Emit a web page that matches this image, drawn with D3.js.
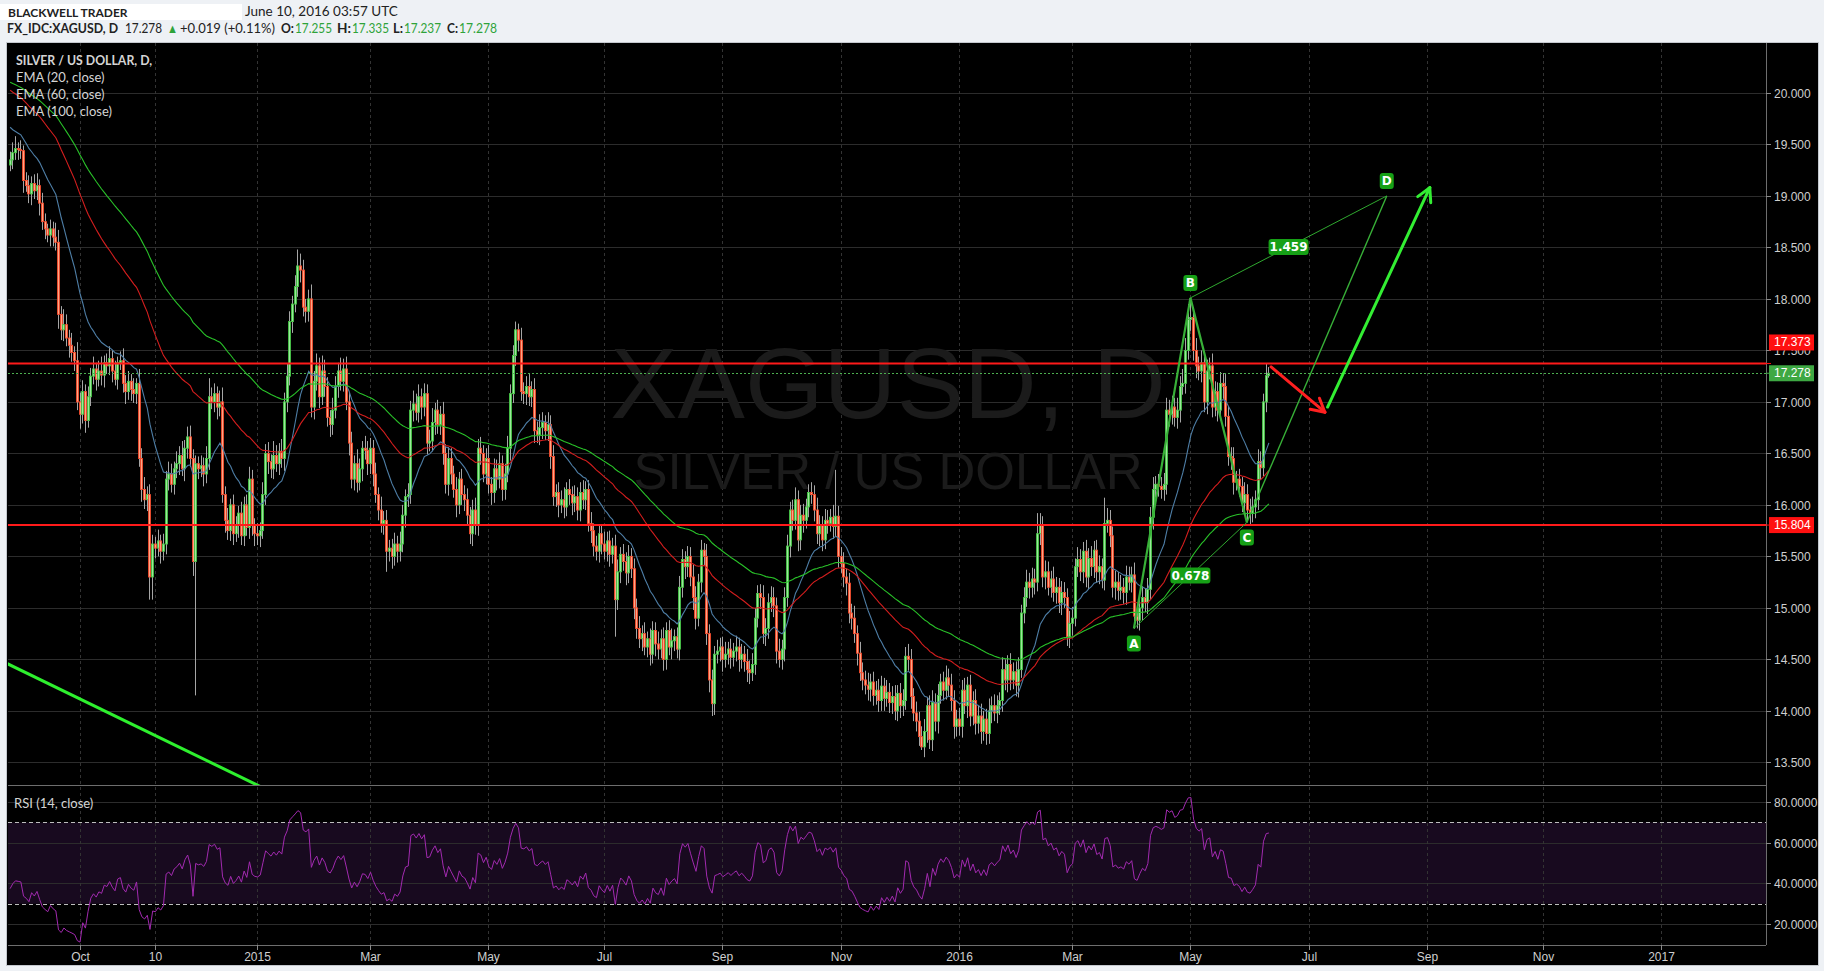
<!DOCTYPE html>
<html><head><meta charset="utf-8">
<script src="https://cdn.jsdelivr.net/npm/d3@7"></script>
<style>html,body{margin:0;padding:0;background:#eef1f5;overflow:hidden}svg{display:block}</style>
</head><body><svg id="c" width="1824" height="971"></svg>
<script>
// ---------------- DATA ----------------
const lastBarDate = "2016-06-10";
const firstOpen = 19.30;
// daily closes, Aug 26 2014 .. Jun 10 2016 (weekdays)
const closes = [
19.35,19.42,19.46,19.45,19.44,19.15,19.10,19.02,19.12,19.05,
19.10,18.93,18.75,18.68,18.62,18.68,18.60,18.55,17.85,17.70,
17.75,17.62,17.55,17.48,17.40,17.00,16.88,17.10,16.82,17.05,
17.25,17.32,17.22,17.30,17.26,17.38,17.35,17.42,17.30,17.22,
17.38,17.40,17.18,17.10,17.20,17.12,17.08,17.18,16.45,16.15,
16.05,16.10,15.30,15.62,15.58,15.65,15.55,15.62,16.25,16.30,
16.20,16.35,16.40,16.48,16.35,16.55,16.66,16.45,15.45,16.40,
16.35,16.38,16.30,16.45,17.05,17.00,17.08,16.95,17.00,16.10,
15.85,15.75,16.00,15.72,15.80,15.92,15.70,16.00,15.78,16.25,
15.80,15.72,
15.70,15.75,16.10,16.50,16.42,16.35,16.48,16.40,16.52,16.45,
17.00,17.25,17.78,17.95,18.12,18.32,18.28,17.92,17.88,18.00,
16.95,17.20,17.35,17.05,17.30,17.15,16.85,16.78,16.92,17.15,
17.30,17.20,17.32,17.00,16.60,16.25,16.40,16.22,16.35,16.55,
16.53,16.40,16.55,16.30,16.10,15.95,15.82,15.85,15.55,15.58,
15.50,15.62,15.55,15.62,15.90,16.08,16.10,16.92,16.98,16.90,
17.05,16.95,17.08,16.60,16.62,16.80,16.92,16.78,16.88,16.50,
16.20,16.45,16.30,16.15,16.00,16.25,16.10,16.05,15.90,15.72,
15.95,15.80,16.55,16.50,16.30,16.45,16.20,16.12,16.35,16.25,
16.40,16.15,16.30,16.55,17.08,17.45,17.70,17.60,17.10,17.08,
17.15,17.05,17.12,16.72,16.68,16.75,16.80,16.72,16.78,16.47,
16.08,16.12,16.00,16.05,15.98,16.15,16.10,16.02,16.08,15.95,
16.12,16.05,16.15,15.82,15.75,15.60,15.55,15.72,15.62,15.55,
15.65,15.52,15.60,15.08,15.35,15.52,15.45,15.34,15.50,15.38,
15.00,14.80,14.70,14.75,14.62,14.70,14.55,14.78,14.65,14.60,
14.70,14.50,14.78,14.62,14.68,14.72,14.60,15.20,15.47,15.40,
15.50,15.30,15.10,14.90,15.25,15.56,15.50,14.75,14.30,14.07,
14.55,14.58,14.62,14.50,14.55,14.60,14.52,14.58,14.62,14.50,
14.55,14.48,14.40,14.37,14.45,14.90,15.14,15.10,14.75,14.80,
15.05,15.10,15.02,14.58,14.50,14.60,15.10,15.60,15.95,15.85,
16.05,15.66,15.90,15.85,15.98,16.12,16.10,15.95,15.72,15.80,
15.66,15.85,15.82,15.88,15.79,15.89,15.50,15.43,15.30,15.24,
14.95,14.90,14.75,14.56,14.37,14.30,14.25,14.21,14.28,14.15,
14.20,14.10,14.24,14.12,14.18,14.08,14.14,14.00,14.17,14.05,
14.10,14.53,14.50,14.14,13.98,13.90,13.75,13.65,13.80,14.05,
13.72,14.08,13.90,14.15,14.28,14.20,14.32,14.25,14.10,13.85,
13.92,13.85,14.20,14.05,14.25,13.95,14.10,13.88,13.95,13.80,
13.92,13.78,14.00,14.05,13.98,14.05,14.10,14.40,14.30,14.45,
14.30,14.38,14.25,14.40,14.95,15.10,15.25,15.20,15.28,15.25,
15.72,15.80,15.30,15.35,15.20,15.28,15.15,15.20,15.05,15.15,
15.10,14.72,14.85,14.90,15.40,15.47,15.35,15.55,15.30,15.48,
15.40,15.56,15.35,15.40,15.27,15.82,15.85,15.70,15.20,15.25,
15.17,15.20,15.15,15.30,15.25,15.32,14.92,14.88,15.00,15.10,
15.05,15.18,15.88,16.15,16.20,16.18,16.15,16.20,16.92,16.88,
16.95,16.85,16.92,17.15,17.18,17.50,17.80,17.82,17.50,17.35,
17.30,17.38,17.00,17.30,17.35,16.95,17.10,16.92,17.18,17.15,
16.86,16.47,16.45,16.22,16.25,16.18,16.02,16.10,15.95,15.92,
15.98,16.05,16.42,16.36,17.00,17.255,17.278
];
// upper / lower shadows above/below the body, in cents
const upperWick = [
8,10,12,6,9,5,8,10,7,9,
12,6,10,8,5,9,7,14,12,8,
15,10,8,12,6,18,9,11,7,10,
8,12,6,10,14,7,9,12,8,10,
6,9,12,8,10,7,11,5,14,10,
12,8,10,9,7,11,6,10,8,12,
10,7,12,9,14,8,10,11,9,8,
7,10,8,12,18,9,10,7,11,14,
8,12,6,10,9,7,11,8,10,12,
9,7,
10,8,12,9,11,7,14,10,8,12,
9,12,10,8,11,16,12,10,8,9,
14,10,12,8,15,11,9,7,12,10,
8,13,10,12,9,11,8,14,10,7,
12,9,10,8,11,7,13,9,10,8,
9,11,8,12,10,7,11,9,13,10,
12,8,10,9,11,14,7,10,8,12,
9,11,10,8,12,7,10,9,11,8,
10,12,9,11,8,10,13,7,10,9,
11,8,10,12,9,10,8,6,12,9,
10,12,8,11,9,13,10,7,12,9,
11,8,10,9,12,7,10,8,11,9,
10,12,8,9,11,7,10,9,8,12,
9,10,8,11,12,7,10,9,11,8,
10,9,12,8,11,7,10,9,8,12,
9,11,8,10,12,7,9,11,10,8,
10,9,12,11,8,10,7,12,9,10,
8,11,9,10,12,7,10,8,11,9,
10,8,12,9,11,10,8,9,12,10,
9,11,10,8,12,9,10,11,8,10,
12,9,10,11,8,8,10,9,12,10,
9,11,10,8,12,45,10,9,11,8,
10,9,12,8,11,10,9,12,8,10,
9,11,10,8,12,9,10,11,8,10,
11,9,12,10,8,11,9,10,12,8,
10,12,9,11,8,10,12,9,11,10,
9,11,10,12,8,10,9,11,10,12,
8,10,12,9,11,10,8,12,10,9,
11,9,10,12,8,10,12,9,11,10,
20,12,9,11,10,8,12,10,9,11,
10,9,12,11,8,12,10,9,11,10,
12,9,10,11,8,25,12,10,9,11,
10,12,9,11,10,8,12,9,10,11,
9,11,10,12,8,10,9,11,12,10,
11,9,12,10,14,12,15,19,10,12,
9,12,10,11,8,12,10,9,11,10,
12,10,9,11,8,10,9,12,10,11,
10,9,12,10,8,12,6
];
const lowerWick = [
6,9,7,10,8,12,6,9,11,8,
9,12,8,10,7,11,9,8,14,10,
11,8,12,9,10,8,14,9,12,7,
9,8,11,7,10,12,8,9,11,6,
10,7,9,12,8,11,9,10,8,12,
9,11,22,22,10,8,12,9,10,11,
8,10,9,11,7,12,10,8,14,130,
10,8,12,9,11,7,10,12,9,8,
12,9,10,11,8,12,9,10,8,11,
10,12,
9,11,8,10,12,9,10,8,11,9,
12,10,9,11,8,10,12,9,11,10,
10,12,9,11,8,10,9,12,10,8,
11,9,10,8,12,9,11,10,8,12,
9,11,10,12,8,10,9,11,20,10,
12,9,11,10,8,12,10,9,11,8,
10,12,9,11,8,10,12,9,10,11,
9,11,10,8,12,9,10,11,9,10,
12,9,10,11,8,10,9,12,10,11,
9,11,10,8,12,9,10,11,9,10,
11,9,10,12,8,10,11,9,10,12,
9,10,12,8,11,9,10,12,9,10,
11,9,10,8,12,10,9,11,10,8,
10,12,9,36,10,11,9,12,10,9,
11,10,9,12,8,10,11,9,12,10,
9,11,10,8,12,10,9,11,10,12,
10,9,12,11,8,10,9,11,12,12,
11,9,10,12,8,10,11,9,10,12,
9,10,12,11,8,10,9,11,10,12,
10,9,11,12,8,10,12,9,11,10,
9,11,10,12,8,10,9,11,10,12,
11,9,10,8,12,10,11,9,10,12,
10,11,9,12,8,10,9,11,12,10,
9,11,10,12,8,10,11,9,10,12,
10,9,11,12,8,10,9,3,10,11,
9,11,10,12,8,10,9,11,10,12,
10,9,11,8,12,10,9,11,10,12,
9,11,10,12,8,10,9,11,10,12,
10,9,11,12,8,10,9,11,10,12,
9,11,10,12,8,10,9,11,10,12,
10,9,11,12,8,10,9,11,10,12,
9,11,10,12,8,10,9,11,10,12,
10,9,11,12,8,10,12,8,10,12,
9,11,10,12,8,10,9,11,10,12,
10,9,11,12,8,10,9,11,10,12,
9,11,10,12,8,10,9,11,10,12,
10,9,11,12,8,10,9,11,12,12,
9,11,10,12,8,10,2
];
const emaPeriods = [20, 60, 100];
const emaSeeds = [19.70, 20.05, 20.12];   // EMA values carried in from before the first visible bar
const rsiPeriod = 14;
const rsiSeedGain = 0.05, rsiSeedLoss = 0.09;
const priceTicks = [13.5,14,14.5,15,15.5,16,16.5,17,17.5,18,18.5,19,19.5,20];
const rsiTicks = [20,40,60,80];
const rsiBand = [30,70];
const timeTickDates = ["2014-10-01","2014-11-10","2015-01-01","2015-03-02","2015-05-01","2015-07-01","2015-09-01","2015-11-02","2016-01-01","2016-03-01","2016-05-02","2016-07-01","2016-09-01","2016-11-01","2017-01-02"];
const timeTickLabels = ["Oct","10","2015","Mar","May","Jul","Sep","Nov","2016","Mar","May","Jul","Sep","Nov","2017"];
const levelPrices = [17.373, 15.804];
const lastPrice = 17.278;
const abcdLabels = ["A","B","C","D"];
const abcdDates = ["2016-04-01","2016-05-02","2016-05-31","2016-08-11"];
const abcdPrices = [14.80, 18.01, 15.83, 19.00];
const ratioLabels = ["0.678","1.459"];
const ratioPairs = [[0,2],[1,3]];
const arrowDates = [["2016-06-13","2016-07-11"],["2016-07-12","2016-09-02"]];
const arrowPrices = [[17.34,16.90],[16.95,19.08]];
const trendDates = ["2014-08-25","2015-01-01"];
const trendPrices = [14.46, 13.28];
const headerParts = ["FX_IDC:XAGUSD, D","17.278","\u25B2","+0.019 (+0.11%)","O:","17.255","H:","17.335","L:","17.237","C:","17.278"];

// ---------------- HELPERS ----------------
const BASE = Date.UTC(2015,0,1);
function wdIndex(s){
  const t = Date.parse(s+"T00:00:00Z");
  const d = Math.round((t-BASE)/864e5);
  let n=0;
  if(d>=0){ for(let k=0;k<d;k++){const wd=(4+k)%7; if(wd!==0&&wd!==6) n++;} }
  else { for(let k=-1;k>=d;k--){const wd=((4+k)%7+7)%7; if(wd!==0&&wd!==6) n--;} }
  return n;
}

// ---------------- LAYOUT ----------------
const L=8, R=1766, T=43, MB=785, RT=786, RB=945;
const svg = d3.select("#c");
const FONT = "'Liberation Sans', Arial, sans-serif";
const HFONT = "Lato, 'Open Sans', sans-serif";

const x = d3.scaleLinear().domain([-92.6, 561]).range([L, R]);
const y = d3.scaleLinear().domain([13.28, 20.485]).range([MB, T]);
const yr = d3.scaleLinear().domain([9.7, 87.9]).range([RB, RT]);

// backgrounds
svg.append("rect").attr("width",1824).attr("height",971).attr("fill","#eef1f5");
svg.append("rect").attr("x",6.5).attr("y",42.5).attr("width",1812).attr("height",923).attr("fill","#000").attr("stroke","#c4c8ce");

// header
svg.append("rect").attr("x",0).attr("y",4).attr("width",242).attr("height",16).attr("fill","#fff");
svg.append("text").attr("x",8).attr("y",17).attr("font-family",HFONT).attr("font-size",12).attr("font-weight",700).attr("fill","#222").text("BLACKWELL TRADER");
svg.append("text").attr("x",245).attr("y",16).attr("font-family",HFONT).attr("font-size",13.5).attr("fill","#222").text("June 10, 2016 03:57 UTC");
// header quote line: [x, width, bold, green] per part
const headerLayout = [[7,111,1,0],[125,37,0,0],[167,11,0,1],[180,95,0,0],[281,13,1,0],[295,37,0,1],[337,14,1,0],[352,37,0,1],[393,10,1,0],[404,37,0,1],[447,11,1,0],[459,38,0,1]];
headerParts.forEach((t,k)=>{
  const [hx,hw,b,gr] = headerLayout[k];
  svg.append("text").attr("x",hx).attr("y",33).attr("font-family",HFONT).attr("font-size",13)
    .attr("font-weight",b?700:400).attr("fill",gr?"#2ea33a":"#222")
    .attr("textLength",hw).attr("lengthAdjust","spacingAndGlyphs").text(t);
});

// clips
const defs = svg.append("defs");
defs.append("clipPath").attr("id","mc").append("rect").attr("x",L).attr("y",T).attr("width",R-L).attr("height",MB-T);
defs.append("clipPath").attr("id","rc").append("rect").attr("x",L).attr("y",RT).attr("width",R-L).attr("height",RB-RT);

// grid
const g = svg.append("g");
priceTicks.forEach(v=>g.append("line").attr("x1",L).attr("x2",R).attr("y1",Math.round(y(v))+0.5).attr("y2",Math.round(y(v))+0.5).attr("stroke","#2c2c2c"));
g.append("rect").attr("x",L).attr("width",R-L).attr("y",yr(rsiBand[1])).attr("height",yr(rsiBand[0])-yr(rsiBand[1])).attr("fill","#180a1f");
rsiTicks.forEach(v=>g.append("line").attr("x1",L).attr("x2",R).attr("y1",Math.round(yr(v))+0.5).attr("y2",Math.round(yr(v))+0.5).attr("stroke","#2c2c2c"));
const tickX = timeTickDates.map(d=>Math.round(x(wdIndex(d)))+0.5);
tickX.forEach(tx=>g.append("line").attr("x1",tx).attr("x2",tx).attr("y1",T).attr("y2",RB).attr("stroke","#333").attr("stroke-dasharray","3,3"));
rsiBand.forEach(v=>g.append("line").attr("x1",L).attr("x2",R).attr("y1",Math.round(yr(v))+0.5).attr("y2",Math.round(yr(v))+0.5).attr("stroke","#bdbdbd").attr("stroke-dasharray","4,3"));

// watermark
svg.append("text").attr("x",888).attr("y",418).attr("text-anchor","middle").attr("font-family",FONT).attr("font-size",101).attr("fill","#1b1b1b").text("XAGUSD, D");
svg.append("text").attr("x",888).attr("y",489).attr("text-anchor","middle").attr("font-family",FONT).attr("font-size",51).attr("fill","#1b1b1b").text("SILVER / US DOLLAR");

// bars
const N = closes.length;
const lastIdx = wdIndex(lastBarDate);
const bars = closes.map((c,k)=>{
  const o = k ? closes[k-1] : firstOpen;
  return {i:lastIdx-(N-1-k), o, c, h:Math.max(o,c)+upperWick[k]/100, l:Math.min(o,c)-lowerWick[k]/100};
});

const main = svg.append("g").attr("clip-path","url(#mc)");
const cg = main.append("g");
bars.forEach(b=>{
  const cx = Math.round(x(b.i));
  cg.append("line").attr("x1",cx+0.5).attr("x2",cx+0.5).attr("y1",y(b.h)).attr("y2",y(b.l)).attr("stroke","#a6a6a6").attr("stroke-width",1);
  const up = b.c>=b.o;
  const top = y(Math.max(b.o,b.c)), bot = y(Math.min(b.o,b.c));
  cg.append("rect").attr("x",cx-0.5).attr("width",2).attr("y",top).attr("height",Math.max(1,bot-top))
    .attr("fill",up?"#9be89b":"#ffa585").attr("stroke",up?"#45c245":"#f0492c").attr("stroke-width",0.9);
});

// EMAs
const emaColors = ["#4e7ea6","#d41e1e","#29c229"];
emaPeriods.forEach((p,j)=>{
  let e = emaSeeds[j]; const a = 2/(p+1);
  const pts = bars.map(b=>{ e = a*b.c+(1-a)*e; return [b.i,e]; });
  main.append("path").datum(pts).attr("fill","none").attr("stroke",emaColors[j]).attr("stroke-width",1.1)
    .attr("d",d3.line().x(d=>x(d[0])+0.5).y(d=>y(d[1])));
});

// level lines
levelPrices.forEach(v=>main.append("line").attr("x1",L).attr("x2",R).attr("y1",y(v)).attr("y2",y(v)).attr("stroke","#ff1a1a").attr("stroke-width",2));
main.append("line").attr("x1",L).attr("x2",R).attr("y1",Math.round(y(lastPrice))+0.5).attr("y2",Math.round(y(lastPrice))+0.5).attr("stroke","#4caf50").attr("stroke-dasharray","2,2");

// trend line (extended to the left edge)
{
  const i0 = wdIndex(trendDates[0]), i1 = wdIndex(trendDates[1]);
  const s = (trendPrices[1]-trendPrices[0])/(i1-i0);
  const ia = -100, ib = i1 + 20;
  main.append("line").attr("x1",x(ia)).attr("y1",y(trendPrices[0]+s*(ia-i0))).attr("x2",x(ib)).attr("y2",y(trendPrices[0]+s*(ib-i0)))
    .attr("stroke","#2ef02e").attr("stroke-width",3);
}

// ABCD pattern
const P = abcdDates.map((d,k)=>[x(wdIndex(d)), y(abcdPrices[k])]);
const pg = main.append("g");
ratioPairs.forEach(([a,b])=>pg.append("line").attr("x1",P[a][0]).attr("y1",P[a][1]).attr("x2",P[b][0]).attr("y2",P[b][1]).attr("stroke","#2fa82f").attr("stroke-width",1));
[[0,1,2.2],[1,2,2.2],[2,3,1.4]].forEach(([a,b,w])=>pg.append("line").attr("x1",P[a][0]).attr("y1",P[a][1]).attr("x2",P[b][0]).attr("y2",P[b][1]).attr("stroke","#38b038").attr("stroke-width",w));
function tag(cx, cy, txt, w){
  pg.append("rect").attr("x",cx-w/2).attr("y",cy-8).attr("width",w).attr("height",16).attr("rx",3).attr("fill","#16a016");
  pg.append("text").attr("x",cx).attr("y",cy+4.5).attr("text-anchor","middle").attr("font-family","'DejaVu Sans', Verdana, sans-serif").attr("font-weight",700).attr("font-size",12).attr("fill","#fff").text(txt);
}
const place = [1,-1,1,-1];
abcdLabels.forEach((t,k)=>tag(P[k][0], P[k][1]+place[k]*15, t, 14));
ratioPairs.forEach(([a,b],k)=>tag((P[a][0]+P[b][0])/2, (P[a][1]+P[b][1])/2, ratioLabels[k], 40));

// arrows
const arrowColors = ["#ff2020","#33ee33"];
arrowDates.forEach((ds,k)=>{
  const x1 = x(wdIndex(ds[0])), y1 = y(arrowPrices[k][0]);
  const x2 = x(wdIndex(ds[1])), y2 = y(arrowPrices[k][1]);
  const ag = main.append("g").attr("stroke",arrowColors[k]).attr("stroke-width",3).attr("stroke-linecap","round").attr("fill","none");
  ag.append("line").attr("x1",x1).attr("y1",y1).attr("x2",x2).attr("y2",y2);
  const ang = Math.atan2(y2-y1, x2-x1);
  [-0.5,0.5].forEach(da=>{
    ag.append("line").attr("x1",x2).attr("y1",y2).attr("x2",x2-15*Math.cos(ang+da)).attr("y2",y2-15*Math.sin(ang+da));
  });
});

// RSI
let ag = rsiSeedGain, al = rsiSeedLoss;
const rsi = bars.map(b=>{
  const d = b.c-b.o;
  ag = (ag*(rsiPeriod-1)+Math.max(d,0))/rsiPeriod;
  al = (al*(rsiPeriod-1)+Math.max(-d,0))/rsiPeriod;
  return [b.i, 100-100/(1+ag/al)];
});
svg.append("g").attr("clip-path","url(#rc)").append("path").datum(rsi).attr("fill","none").attr("stroke","#a22ab0").attr("stroke-width",1)
  .attr("d",d3.line().x(d=>x(d[0])+0.5).y(d=>yr(d[1])));

// panel separators / axes
svg.append("line").attr("x1",L).attr("x2",R).attr("y1",RT-0.5).attr("y2",RT-0.5).attr("stroke","#6e6e6e");
svg.append("line").attr("x1",L).attr("x2",R).attr("y1",RB+0.5).attr("y2",RB+0.5).attr("stroke","#6e6e6e");
svg.append("line").attr("x1",R+0.5).attr("x2",R+0.5).attr("y1",T).attr("y2",RB).attr("stroke","#6e6e6e");

// price axis
const ax = svg.append("g").attr("font-family",FONT).attr("font-size",12).attr("fill","#cfcfcf");
priceTicks.forEach(v=>{
  const yy = Math.round(y(v))+0.5;
  ax.append("line").attr("x1",R).attr("x2",R+5).attr("y1",yy).attr("y2",yy).attr("stroke","#8a8a8a");
  ax.append("text").attr("x",R+8).attr("y",yy+4).text(v.toFixed(3));
});
rsiTicks.forEach(v=>{
  const yy = Math.round(yr(v))+0.5;
  ax.append("line").attr("x1",R).attr("x2",R+5).attr("y1",yy).attr("y2",yy).attr("stroke","#8a8a8a");
  ax.append("text").attr("x",R+8).attr("y",yy+4).text(v.toFixed(4));
});
function priceTag(v, cy, color){
  ax.append("line").attr("x1",R).attr("x2",R+5).attr("y1",y(v)).attr("y2",y(v)).attr("stroke",color);
  ax.append("rect").attr("x",R+3).attr("y",cy-8).attr("width",45).attr("height",16).attr("fill",color);
  ax.append("text").attr("x",R+8).attr("y",cy+4).attr("fill","#fff").text(v.toFixed(3));
}
priceTag(levelPrices[0], y(levelPrices[0])-21, "#ff1010");
priceTag(lastPrice, y(lastPrice), "#3ea843");
priceTag(levelPrices[1], y(levelPrices[1]), "#ff1010");

// time axis
const tx = svg.append("g").attr("font-family","'Liberation Sans Narrow', 'Liberation Sans', Arial, sans-serif").attr("font-size",12).attr("fill","#cfcfcf");
tickX.forEach((xx,k)=>{
  tx.append("line").attr("x1",xx).attr("x2",xx).attr("y1",RB).attr("y2",RB+5).attr("stroke","#8a8a8a");
  tx.append("text").attr("x",xx).attr("y",961).attr("text-anchor","middle").text(timeTickLabels[k]);
});

// legends
const lg = svg.append("g").attr("font-family",HFONT).attr("font-size",13).attr("fill","#d4d4d4");
lg.append("text").attr("x",16).attr("y",65).attr("font-weight",700).attr("font-size",12.3).text("SILVER / US DOLLAR, D,");
emaPeriods.forEach((p,j)=>lg.append("text").attr("x",16).attr("y",82+17*j).text(`EMA (${p}, close)`));
lg.append("text").attr("x",14).attr("y",808).text("RSI (14, close)");
</script>
</body></html>
